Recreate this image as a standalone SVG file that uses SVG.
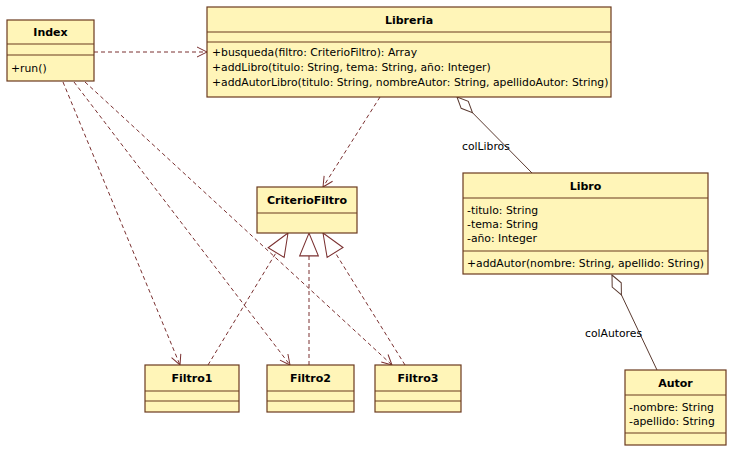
<svg xmlns="http://www.w3.org/2000/svg" width="732" height="451" viewBox="0 0 732 451">
<style>
.box{fill:#FFF5B8;stroke:#6B3A1F;stroke-width:1.2}
.div{stroke:#6B3A1F;stroke-width:1.2}
.t{font-family:"DejaVu Sans",Verdana,sans-serif;font-size:10.8px;fill:#000}
.b{font-family:"DejaVu Sans",Verdana,sans-serif;font-size:11px;font-weight:bold;fill:#000;text-anchor:middle}
.dep{fill:none;stroke:#7A3030;stroke-width:1;stroke-dasharray:4,3}
.agg{fill:none;stroke:#5A3A30;stroke-width:1}
</style>
<defs>
<marker id="open" markerUnits="userSpaceOnUse" markerWidth="14" markerHeight="14" viewBox="-1 -7 13 14" refX="10" refY="0" orient="auto">
<path d="M0,-5 L10,0 L0,5" fill="none" stroke="#7A3030" stroke-width="1"/>
</marker>
<marker id="tri" markerUnits="userSpaceOnUse" markerWidth="26" markerHeight="24" viewBox="-1 -11 25 22" refX="22" refY="0" orient="auto">
<path d="M0,-9 L22,0 L0,9 Z" fill="#fff" stroke="#7A3030" stroke-width="1"/>
</marker>
<marker id="dia" markerUnits="userSpaceOnUse" markerWidth="26" markerHeight="14" viewBox="-1 -7 26 14" refX="0" refY="0" orient="auto">
<path d="M0,0 L11,-5 L22,0 L11,5 Z" fill="#fff" stroke="#5A3A30" stroke-width="1"/>
</marker>
</defs>
<rect width="732" height="451" fill="#fff"/>
<g id="connectors">
<line class="dep" x1="94" y1="52" x2="207" y2="52" marker-end="url(#open)"/>
<line class="dep" x1="380" y1="97" x2="323" y2="187" marker-end="url(#open)"/>
<line class="dep" x1="63" y1="82" x2="180" y2="365" marker-end="url(#open)"/>
<line class="dep" x1="74" y1="82" x2="290" y2="365" marker-end="url(#open)"/>
<line class="dep" x1="85" y1="82" x2="392" y2="365" marker-end="url(#open)"/>
<line class="dep" x1="208" y1="365" x2="288" y2="233" marker-end="url(#tri)"/>
<line class="dep" x1="309" y1="365" x2="309" y2="233" marker-end="url(#tri)"/>
<line class="dep" x1="405" y1="365" x2="323" y2="233" marker-end="url(#tri)"/>
<line class="agg" x1="457" y1="97" x2="532" y2="173" marker-start="url(#dia)"/>
<line class="agg" x1="612" y1="275" x2="657" y2="370" marker-start="url(#dia)"/>
<text class="t" x="462" y="150">colLibros</text>
<text class="t" x="585" y="337">colAutores</text>
</g>
<g id="Index">
<rect class="box" x="7" y="20" width="87" height="61"/>
<line class="div" x1="7" y1="44" x2="94" y2="44"/>
<line class="div" x1="7" y1="55" x2="94" y2="55"/>
<text class="b" x="50.5" y="36">Index</text>
<text class="t" x="11" y="72">+run()</text>
</g>
<g id="Libreria">
<rect class="box" x="207" y="7" width="404" height="90"/>
<line class="div" x1="207" y1="32" x2="611" y2="32"/>
<line class="div" x1="207" y1="42" x2="611" y2="42"/>
<text class="b" x="409" y="24">Libreria</text>
<text class="t" x="212" y="56">+busqueda(filtro: CriterioFiltro): Array</text>
<text class="t" x="212" y="71">+addLibro(titulo: String, tema: String, año: Integer)</text>
<text class="t" x="212" y="86">+addAutorLibro(titulo: String, nombreAutor: String, apellidoAutor: String)</text>
</g>
<g id="CriterioFiltro">
<rect class="box" x="257" y="187" width="100" height="46"/>
<line class="div" x1="257" y1="213" x2="357" y2="213"/>
<text class="b" x="307" y="204">CriterioFiltro</text>
</g>
<g id="Libro">
<rect class="box" x="463" y="173" width="245" height="101"/>
<line class="div" x1="463" y1="198" x2="708" y2="198"/>
<line class="div" x1="463" y1="251" x2="708" y2="251"/>
<text class="b" x="585.5" y="190">Libro</text>
<text class="t" x="467" y="214">-titulo: String</text>
<text class="t" x="467" y="228">-tema: String</text>
<text class="t" x="467" y="242">-año: Integer</text>
<text class="t" x="467" y="267">+addAutor(nombre: String, apellido: String)</text>
</g>
<g id="Autor">
<rect class="box" x="625" y="370" width="101" height="75"/>
<line class="div" x1="625" y1="395" x2="726" y2="395"/>
<line class="div" x1="625" y1="433" x2="726" y2="433"/>
<text class="b" x="675.5" y="387">Autor</text>
<text class="t" x="629" y="411">-nombre: String</text>
<text class="t" x="629" y="425">-apellido: String</text>
</g>
<g id="Filtro1">
<rect class="box" x="145" y="365" width="94" height="47"/>
<line class="div" x1="145" y1="391" x2="239" y2="391"/>
<line class="div" x1="145" y1="401" x2="239" y2="401"/>
<text class="b" x="192" y="382">Filtro1</text>
</g>
<g id="Filtro2">
<rect class="box" x="267" y="365" width="87" height="47"/>
<line class="div" x1="267" y1="391" x2="354" y2="391"/>
<line class="div" x1="267" y1="401" x2="354" y2="401"/>
<text class="b" x="310.5" y="382">Filtro2</text>
</g>
<g id="Filtro3">
<rect class="box" x="375" y="365" width="86" height="47"/>
<line class="div" x1="375" y1="391" x2="461" y2="391"/>
<line class="div" x1="375" y1="401" x2="461" y2="401"/>
<text class="b" x="418" y="382">Filtro3</text>
</g>
</svg>
